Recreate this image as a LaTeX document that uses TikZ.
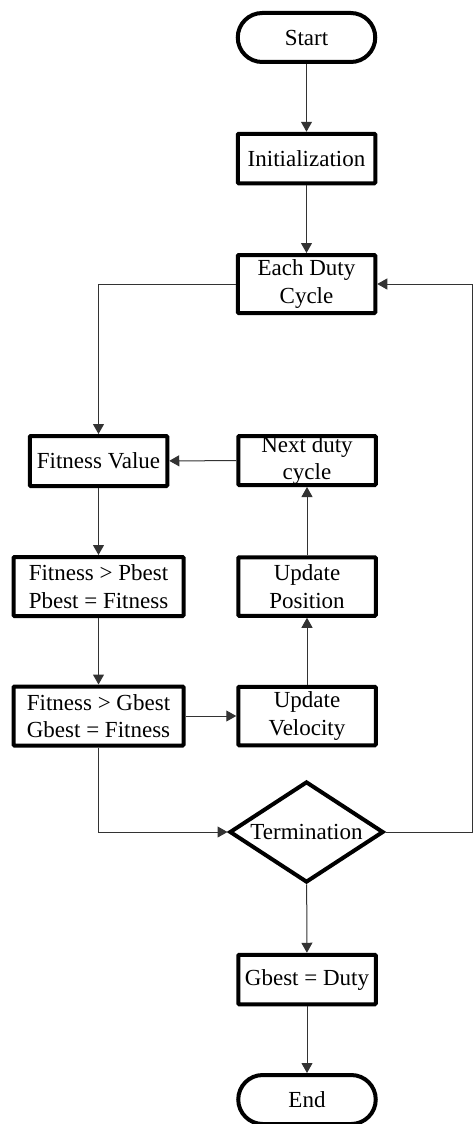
\documentclass[tikz,border=0pt]{standalone}
\usepackage{fontspec}
\setmainfont{Liberation Serif}
\usetikzlibrary{arrows.meta,shapes.geometric}
\begin{document}
\begin{tikzpicture}[x=1pt,y=-1pt,
  txt/.style={align=center,font=\fontsize{23}{27.5}\selectfont,inner sep=0pt},
  box/.style={txt,draw,line width=4pt,rectangle,rounded corners=1pt,minimum width=137.5pt,minimum height=49.5pt},
  widebox/.style={box,minimum width=170pt,minimum height=59pt},
  term/.style={txt,draw,line width=4pt,rectangle,rounded corners=24.5pt,minimum width=137.5pt,minimum height=49pt},
  dec/.style={txt,draw,line width=4pt,diamond,aspect=1.5,minimum width=154pt,minimum height=101pt},
  conn/.style={line width=1pt,draw=black!80,-{Triangle[length=10pt,width=11pt]}}
]
\useasboundingbox (0,0) rectangle (472,1124);
\node[term] (start) at (306.5,37.5) {Start};
\node[box] (init) at (306.5,158.5) {Initialization};
\node[box,minimum height=58pt] (each) at (306.5,284) {Each Duty\\Cycle};
\node[box,minimum height=50pt] (fv) at (98.5,461) {Fitness Value};
\node[box,minimum height=49pt] (next) at (307,460.5) {Next duty\\cycle};
\node[widebox] (pb) at (98.5,586.5) {Fitness {\textgreater} Pbest\\Pbest = Fitness};
\node[box,minimum height=58.5pt] (pos) at (307,586.5) {Update\\Position};
\node[widebox] (gb) at (98.5,716) {Fitness {\textgreater} Gbest\\Gbest = Fitness};
\node[box,minimum height=58.5pt] (vel) at (307,716) {Update\\Velocity};
\node[dec] (termi) at (306.5,832) {Termination};
\node[box] (gd) at (307,979.5) {Gbest = Duty};
\node[term] (end) at (307,1099.5) {End};

\draw[conn] (start) -- (init);
\draw[conn] (init) -- (each);
\draw[conn] (each.west) -| (fv.north);
\draw[conn] (next) -- (fv);
\draw[conn] (fv) -- (pb);
\draw[conn] (pb) -- (gb);
\draw[conn] (gb) -- (vel);
\draw[conn] (vel) -- (pos);
\draw[conn] (pos) -- (next);
\draw[conn] (gb.south) |- (termi.west);
\draw[conn] (termi.east) -- ++(86.5,0) |- (each.east);
\draw[conn] (termi) -- (gd);
\draw[conn] (gd) -- (end);
\end{tikzpicture}
\end{document}
